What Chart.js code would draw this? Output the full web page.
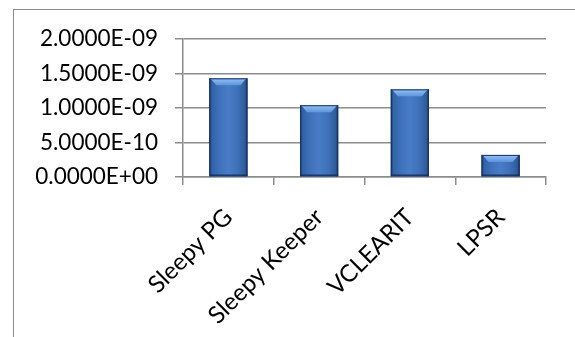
<!DOCTYPE html>
<html>
<head>
<meta charset="utf-8">
<script src="https://cdn.jsdelivr.net/npm/chart.js@4/dist/chart.umd.min.js"></script>
<style>
  html, body { margin: 0; padding: 0; background: #ffffff; overflow: hidden; }
  #wrap { position: relative; width: 575px; height: 337px; }
  #frame {
    position: absolute; left: 13px; top: 9px; width: 620px; height: 400px;
    border: 1.5px solid #8c8c8c; box-sizing: border-box;
  }
  #chart { position: absolute; left: 0; top: 0; }
</style>
</head>
<body>
<div id="wrap">
  <div id="frame"></div>
  <canvas id="chart" width="575" height="337"></canvas>
</div>
<script>
// Methods compared
const categories = ['Sleepy PG', 'Sleepy Keeper', 'VCLEARIT', 'LPSR'];
// Measured value per method
const values = [1.43e-9, 1.04e-9, 1.27e-9, 3.2e-10];
// Value axis labels, bottom to top
const yTickLabels = ['0.0000E+00', '5.0000E-10', '1.0000E-09', '1.5000E-09', '2.0000E-09'];

const FONT = 'Lato, "Open Sans", sans-serif';
const GRID = '#8c8c8c';

// Gives each bar a rounded-tube look with a bevelled top edge
const bevelBars = {
  id: 'bevelBars',
  afterDatasetsDraw(chart) {
    const ctx = chart.ctx;
    chart.getDatasetMeta(0).data.forEach(bar => {
      const w = bar.width;
      const l = bar.x - w / 2, r = bar.x + w / 2;
      const t = bar.y, b = bar.base;
      const bev = Math.min(7, (b - t) / 2);
      ctx.save();
      const g = ctx.createLinearGradient(l, 0, r, 0);
      g.addColorStop(0, '#1c3866');
      g.addColorStop(0.07, '#3163a8');
      g.addColorStop(0.3, '#3f74bd');
      g.addColorStop(0.5, '#477dc6');
      g.addColorStop(0.75, '#3d70b8');
      g.addColorStop(0.93, '#2f5c9c');
      g.addColorStop(1, '#1a3461');
      ctx.fillStyle = g;
      ctx.fillRect(l, t, w, b - t);
      // top bevel
      const tg = ctx.createLinearGradient(0, t, 0, t + bev);
      tg.addColorStop(0, '#94c2f6');
      tg.addColorStop(1, '#5e94da');
      ctx.fillStyle = tg;
      ctx.beginPath();
      ctx.moveTo(l + 1, t);
      ctx.lineTo(r - 1, t);
      ctx.lineTo(r - bev, t + bev);
      ctx.lineTo(l + bev, t + bev);
      ctx.closePath();
      ctx.fill();
      // bottom edge
      ctx.fillStyle = 'rgba(20,40,80,0.55)';
      ctx.fillRect(l, b - 2, w, 2);
      ctx.strokeStyle = '#1a3360';
      ctx.lineWidth = 1;
      ctx.strokeRect(l + 0.5, t + 0.5, w - 1, b - t - 1);
      ctx.restore();
    });
  }
};

new Chart(document.getElementById('chart'), {
  type: 'bar',
  data: {
    labels: categories,
    datasets: [{
      data: values,
      backgroundColor: '#3c70b8',
      borderWidth: 0,
      barPercentage: 0.42,
      categoryPercentage: 1.0
    }]
  },
  options: {
    responsive: false,
    animation: false,
    devicePixelRatio: 1,
    layout: { padding: { top: 39, right: 29, left: 0, bottom: 0 } },
    plugins: { legend: { display: false }, tooltip: { enabled: false } },
    scales: {
      x: {
        grid: { drawOnChartArea: false, drawTicks: true, tickLength: 8, color: GRID, lineWidth: 1.5 },
        border: { display: true, color: GRID, width: 1.5 },
        ticks: {
          minRotation: 45, maxRotation: 45, padding: 18,
          color: '#000000', font: { family: FONT, size: 24 }
        },
        afterFit(scale) { scale.height = 160; }
      },
      y: {
        min: 0, max: 2e-9,
        grid: { color: GRID, lineWidth: 1.5, drawTicks: true, tickLength: 8 },
        border: { display: true, color: GRID, width: 1.5 },
        ticks: {
          stepSize: 5e-10,
          padding: 17,
          color: '#000000',
          font: { family: FONT, size: 22.5 },
          callback: (v, i) => yTickLabels[i]
        },
        afterFit(scale) { scale.width = 183; }
      }
    }
  },
  plugins: [bevelBars]
});
</script>
</body>
</html>
